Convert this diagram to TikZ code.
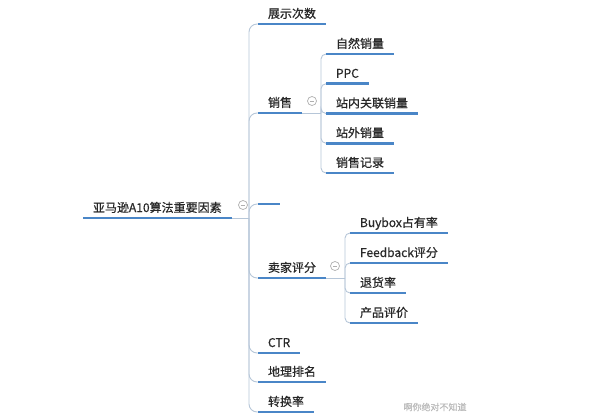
\documentclass[tikz,border=0pt]{standalone}
\usepackage{fontspec}
\setmainfont{Noto Sans CJK SC}[FakeBold=0.6]
\usetikzlibrary{positioning}
\definecolor{lineblue}{RGB}{74,134,199}
\definecolor{linkgray}{RGB}{182,198,216}
\definecolor{textgray}{RGB}{40,40,40}
\definecolor{foldgray}{RGB}{175,175,175}

\begin{document}
\begin{tikzpicture}[x=1pt,y=-1pt,
	topic/.style={anchor=south west,inner xsep=10pt,inner ysep=4pt,outer sep=0pt,text height=9pt,text depth=2pt,font=\fontsize{12}{14}\selectfont,text=textgray},
	uline/.style={lineblue,line width=2.6pt},
	link/.style={linkgray,line width=0.9pt,rounded corners=8pt},
	fold/.style={circle,draw=foldgray,line width=0.7pt,minimum size=9pt,inner sep=0pt,fill=white,
		path picture={\draw[foldgray,line width=0.7pt] ([xshift=-2.2pt]path picture bounding box.center) -- ([xshift=2.2pt]path picture bounding box.center);}}]
				\useasboundingbox (0,0) rectangle (600,420);
				
				\node(root) [topic] at (83,218) {亚马逊A10算法重要因素};
				
				%--------------------------------------------------------------------
				\node(show) [topic] at (258,24) {展示次数};
				\node(sales) [topic] at (258,113) {销售};
				\node(blank) [topic,minimum width=22pt] at (258,204) {};
				\node(seller) [topic] at (258,278) {卖家评分};
				\node(ctr) [topic] at (258,353) {CTR};
				\node(geo) [topic] at (258,382) {地理排名};
				\node(conv) [topic] at (258,412) {转换率};
				
				%--------------------------------------------------------------------
				\node(natural) [topic] at (326,54) {自然销量};
				\node(ppc) [topic,below=10.75pt of natural.south west,anchor=north west] {PPC};
				\node(related) [topic,below=10.75pt of ppc.south west,anchor=north west] {站内关联销量};
				\node(offsite) [topic,below=10.75pt of related.south west,anchor=north west] {站外销量};
				\node(record) [topic,below=10.75pt of offsite.south west,anchor=north west] {销售记录};
				
				%--------------------------------------------------------------------
				\node(buybox) [topic] at (350,233) {Buybox占有率};
				\node(feedback) [topic,below=11pt of buybox.south west,anchor=north west] {Feedback评分};
				\node(refund) [topic,below=11pt of feedback.south west,anchor=north west] {退货率};
				\node(review) [topic,below=11pt of refund.south west,anchor=north west] {产品评价};
				
				%--------------------------------------------------------------------
				\coordinate (rj) at (249,218);
				\draw[link] (root.south east) -- (rj);
				\foreach \c in {show,sales,blank,seller,ctr,geo,conv}
					\draw[link] (rj) |- (\c.south west);
				
				\coordinate (sj) at (321,113);
				\draw[link] (sales.south east) -- (sj);
				\foreach \c in {natural,ppc,related,offsite,record}
					\draw[link,rounded corners=5pt] (sj) |- (\c.south west);
				
				\coordinate (fj) at (345,278);
				\draw[link] (seller.south east) -- (fj);
				\foreach \c in {buybox,feedback,refund,review}
					\draw[link,rounded corners=5pt] (fj) |- (\c.south west);
				
				\foreach \c in {root,show,sales,blank,seller,ctr,geo,conv,natural,ppc,related,offsite,record,buybox,feedback,refund,review}
					\draw[uline] (\c.south west) -- (\c.south east);
				
				\node(rootfold) [fold] at (243,205) {};
				\node(salesfold) [fold] at (312,101) {};
				\node(sellerfold) [fold] at (335,266) {};
				
				%--------------------------------------------------------------------
				\node(mark) [anchor=west,font=\fontsize{9}{10}\selectfont,text=gray!55] at (400,407) {啊你绝对不知道};
				
\end{tikzpicture}
\end{document}
